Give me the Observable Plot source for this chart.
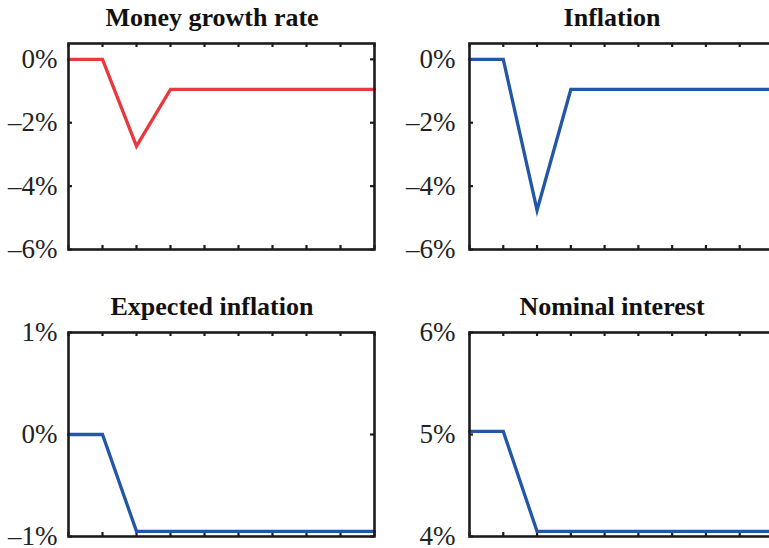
<!DOCTYPE html>
<html>
<head>
<meta charset="utf-8">
<script src="https://cdn.jsdelivr.net/npm/d3@7"></script>
<script src="https://cdn.jsdelivr.net/npm/@observablehq/plot@0.6"></script>
<style>
  html, body { margin: 0; padding: 0; background: #fff; }
  #page { position: relative; width: 769px; height: 548px; overflow: hidden; background: #fff; }
  .panel { position: absolute; }
  .panel svg { overflow: visible; max-width: none !important; display: block; }
  .title { position: absolute; width: 400px; text-align: center; font-family: "Liberation Serif", "DejaVu Serif", serif;
           font-weight: bold; font-size: 26px; line-height: 26px; color: #111; white-space: nowrap; }
</style>
</head>
<body>
<div id="page"></div>
<script>
// ---- data ----
const periods = [0, 1, 2, 3, 4, 5, 6, 7, 8, 9];
const moneyGrowth = [0, 0, -2.74, -0.95, -0.95, -0.95, -0.95, -0.95, -0.95, -0.95];
const inflation = [0, 0, -4.76, -0.95, -0.95, -0.95, -0.95, -0.95, -0.95, -0.95];
const expectedInflation = [0, 0, -0.95, -0.95, -0.95, -0.95, -0.95, -0.95, -0.95, -0.95];
const nominalInterest = [5.03, 5.03, 4.05, 4.05, 4.05, 4.05, 4.05, 4.05, 4.05, 4.05];
const titles = ["Money growth rate", "Inflation", "Expected inflation", "Nominal interest"];
const yTicksTop = [-6, -4, -2, 0];
const yTicksExpected = [-1, 0, 1];
const yTicksNominal = [4, 5, 6];

const RED = "#e8393e";
const BLUE = "#2256a6";
const INK = "#1c1c1c";

const page = document.getElementById("page");
const fmt = d => (d < 0 ? "\u2013" : "") + Math.abs(d) + "%";

function panel({values, color, title, yDomain, yTicks, left, top, width, height, mL, mR, mT, mB, pad}) {
  const data = periods.map((t, i) => ({t, v: values[i]}));
  const fw = width - mL - mR, fh = height - mT - mB;
  const tl = 4;
  const chart = Plot.plot({
    width, height,
    marginLeft: mL, marginRight: mR, marginTop: mT, marginBottom: mB,
    style: {fontFamily: "'Liberation Serif', 'DejaVu Serif', serif", fontSize: "27px", color: INK, background: "transparent", maxWidth: "none"},
    x: {domain: [0, 9], axis: null},
    y: {domain: yDomain, axis: null},
    marks: [
      Plot.tickX(periods, {x: d => d, stroke: INK, strokeWidth: 2.2, insetTop: fh - tl}),
      Plot.tickX(periods, {x: d => d, stroke: INK, strokeWidth: 2.2, insetBottom: fh - tl}),
      Plot.tickY(yTicks, {y: d => d, stroke: INK, strokeWidth: 2.2, insetRight: fw - tl}),
      Plot.tickY(yTicks, {y: d => d, stroke: INK, strokeWidth: 2.2, insetLeft: fw - tl}),
      Plot.axisY(yTicks, {tickSize: 0, tickPadding: pad, tickFormat: fmt, fill: "#222", fontSize: 27, label: null}),
      Plot.line(data, {x: "t", y: "v", stroke: color, strokeWidth: 3.3, strokeLinejoin: "miter", strokeMiterlimit: 10}),
      Plot.frame({stroke: INK, strokeWidth: 2.6})
    ]
  });
  const wrap = document.createElement("div");
  wrap.className = "panel";
  wrap.style.left = left + "px";
  wrap.style.top = top + "px";
  wrap.style.width = width + "px";
  wrap.style.height = height + "px";
  wrap.appendChild(chart);
  page.appendChild(wrap);

  const tdiv = document.createElement("div");
  tdiv.className = "title";
  tdiv.textContent = title;
  const cx = left + mL + fw / 2 - 9;
  tdiv.style.left = (cx - 200) + "px";
  tdiv.style.top = (top + mT - 38) + "px";
  page.appendChild(tdiv);
}

panel({values: moneyGrowth, color: RED, title: titles[0], yDomain: [-6, 0.5], yTicks: yTicksTop,
       left: 0, top: 0, width: 385, height: 265, mL: 68, mR: 11, mT: 43, mB: 16, pad: 11});
panel({values: inflation, color: BLUE, title: titles[1], yDomain: [-6, 0.5], yTicks: yTicksTop,
       left: 390, top: 0, width: 390, height: 265, mL: 79, mR: 7, mT: 43, mB: 16, pad: 14});
panel({values: expectedInflation, color: BLUE, title: titles[2], yDomain: [-1, 1], yTicks: yTicksExpected,
       left: 0, top: 280, width: 385, height: 268, mL: 68, mR: 11, mT: 52, mB: 12, pad: 11});
panel({values: nominalInterest, color: BLUE, title: titles[3], yDomain: [4, 6], yTicks: yTicksNominal,
       left: 390, top: 280, width: 390, height: 268, mL: 79, mR: 7, mT: 52, mB: 12, pad: 14});
</script>
</body>
</html>
